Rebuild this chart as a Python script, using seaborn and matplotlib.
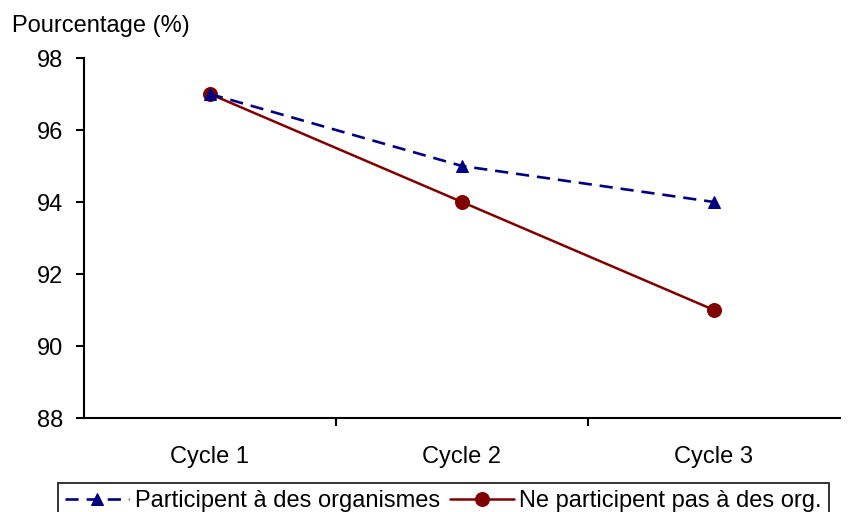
import matplotlib
matplotlib.use("Agg")
import matplotlib.pyplot as plt
import seaborn as sns
import pandas as pd

categories = ["Cycle 1", "Cycle 2", "Cycle 3"]
participent = [97, 95, 94]
ne_participent = [97, 94, 91]
label_a = "Participent à des organismes"
label_b = "Ne participent pas à des org."
yticks = [88, 90, 92, 94, 96, 98]

sns.set_style("white")
plt.rcParams['font.family'] = ['Liberation Sans', 'DejaVu Sans']
plt.rcParams['text.color'] = 'black'
plt.rcParams['xtick.color'] = 'black'
plt.rcParams['ytick.color'] = 'black'
plt.rcParams['xtick.bottom'] = True
plt.rcParams['ytick.left'] = True
FS = 17

fig = plt.figure(figsize=(8.51, 5.12), dpi=100)
ax = fig.add_axes([84/851, 1-418/512, (840-84)/851, (418-58)/512])

x = list(range(len(categories)))
df_a = pd.DataFrame({"x": x, "y": participent})
df_b = pd.DataFrame({"x": x, "y": ne_participent})

sns.lineplot(data=df_a, x="x", y="y", ax=ax, color="#000080", linestyle=(0, (5, 3)),
             linewidth=1.9, marker="^", markersize=9, markeredgecolor="#000080",
             label=label_a, zorder=3)
sns.lineplot(data=df_b, x="x", y="y", ax=ax, color="#800000", linestyle="-",
             linewidth=1.8, marker="o", markersize=10, markeredgecolor="#800000",
             label=label_b, zorder=2)

ax.set_xlim(-0.5, 2.5)
ax.set_ylim(88, 98)
ax.set_yticks(yticks)
ax.set_yticklabels([str(v) for v in yticks], fontsize=FS, color="black")
ax.set_xticks(x)
ax.set_xticklabels(categories, fontsize=FS, color="black")
ax.set_xticks([0.5, 1.5], minor=True)
ax.tick_params(axis="x", which="major", length=0, pad=20)
ax.tick_params(axis="x", which="minor", bottom=True, length=6, width=1.5, color="black", direction="out")
ax.tick_params(axis="y", which="major", left=True, length=6, width=1.5, color="black", direction="out", pad=9)
ax.set_xlabel("")
ax.set_ylabel("")
for s in ["top", "right"]:
    ax.spines[s].set_visible(False)
for s in ["left", "bottom"]:
    ax.spines[s].set_color("black")
    ax.spines[s].set_linewidth(1.5)

fig.text(12/851, 1-26/512, "Pourcentage (%)", fontsize=FS, va="center", ha="left", color="black")

leg = ax.legend(loc="upper left", bbox_to_anchor=(58/851, 1-483/512),
                bbox_transform=fig.transFigure, ncol=2, frameon=True, fontsize=FS,
                handlelength=2.7, handletextpad=0.25, columnspacing=0.42,
                borderpad=0.3, borderaxespad=0, fancybox=False)
leg.get_frame().set_edgecolor("black")
leg.get_frame().set_linewidth(1.4)
for t in leg.get_texts():
    t.set_color("black")

fig.savefig("out.png", dpi=100)
